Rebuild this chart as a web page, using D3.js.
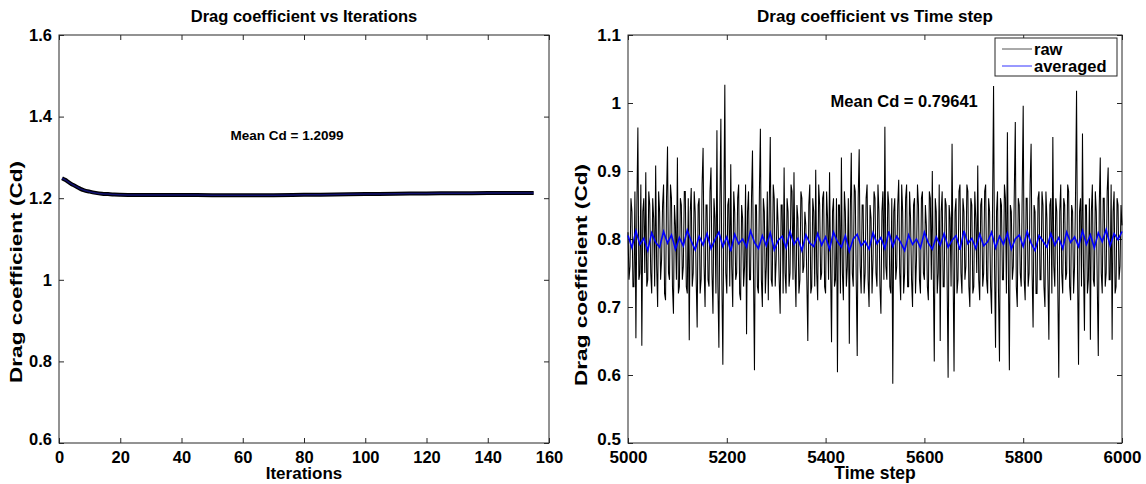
<!DOCTYPE html>
<html>
<head>
<meta charset="utf-8">
<script src="https://cdn.jsdelivr.net/npm/d3@7"></script>
<style>
  body { margin: 0; background: #fff; }
  svg text { font-family: "Liberation Sans", Arial, sans-serif; font-weight: bold; fill: #000; }
</style>
</head>
<body>
<div id="chart"></div>
<script>
// left panel: Cd per iteration
const iterSteps = [1,2,3,4,5,6,7,8,10,12,14,16,18,20,25,30,40,50,60,70,80,90,100,110,120,130,140,150,155];
const iterCd = [1.249,1.245,1.240,1.235,1.231,1.227,1.223,1.220,1.216,1.213,1.211,1.210,1.209,1.2085,1.208,1.208,1.2078,1.2075,1.2072,1.2074,1.2082,1.2092,1.2102,1.2110,1.2117,1.2122,1.2126,1.2129,1.213];
const iterXTicks = [0,20,40,60,80,100,120,140,160];
const iterYTicks = [0.6,0.8,1,1.2,1.4,1.6];

// right panel: raw Cd at steps 5000,5004,... (rawA) and 5002,5006,... (rawB)
const rawA = [
  0.81,0.76,0.84,0.73,0.654,0.964,0.75,0.643,0.86,0.898,
  0.74,0.85,0.72,0.83,0.908,0.70,0.84,0.77,0.88,0.71,
  0.936,0.74,0.86,0.69,0.82,0.92,0.73,0.85,0.76,0.87,
  0.72,0.651,0.875,0.75,0.84,0.67,0.86,0.74,0.934,0.70,
  0.85,0.73,0.905,0.69,0.83,0.96,0.64,0.977,0.615,1.027,
  0.72,0.86,0.91,0.70,0.84,0.75,0.88,0.71,0.83,0.76,
  0.66,0.87,0.74,0.93,0.607,0.85,0.72,0.962,0.70,0.84,
  0.76,0.71,0.95,0.73,0.86,0.77,0.82,0.69,0.85,0.905,
  0.72,0.84,0.75,0.87,0.898,0.70,0.83,0.74,0.86,0.76,
  0.82,0.65,0.88,0.73,0.84,0.902,0.71,0.85,0.75,0.87,
  0.72,0.83,0.898,0.648,0.86,0.74,0.604,0.85,0.92,0.71,
  0.84,0.76,0.646,0.927,0.73,0.87,0.628,0.932,0.72,0.85,
  0.75,0.88,0.70,0.83,0.77,0.86,0.73,0.84,0.69,0.87,
  0.965,0.74,0.85,0.72,0.587,0.86,0.76,0.887,0.71,0.84,
  0.75,0.88,0.73,0.83,0.70,0.86,0.77,0.85,0.72,0.87,
  0.74,0.82,0.71,0.86,0.90,0.62,0.84,0.75,0.65,0.87,
  0.73,0.85,0.596,0.83,0.94,0.605,0.86,0.74,0.88,0.72,
  0.84,0.76,0.87,0.70,0.85,0.73,0.83,0.908,0.71,0.86,
  0.75,0.88,0.72,0.84,0.69,1.025,0.64,0.87,0.62,0.85,
  0.74,0.86,0.957,0.607,0.84,0.76,0.972,0.70,0.85,0.73,
  0.996,0.71,0.86,0.75,0.94,0.67,0.84,0.72,0.87,0.74,
  0.85,0.70,0.83,0.652,0.86,0.95,0.73,0.84,0.596,0.88,
  0.72,0.85,0.75,0.87,0.71,0.84,0.76,1.018,0.615,0.86,
  0.955,0.665,0.85,0.74,0.652,0.88,0.73,0.84,0.628,0.92,
  0.72,0.86,0.75,0.905,0.74,0.652,0.87,0.73,0.85,0.76,
  0.82
];
const rawB = [
  0.74,0.86,0.73,0.87,0.85,0.74,0.88,0.84,0.75,0.73,
  0.87,0.75,0.86,0.73,0.76,0.87,0.74,0.85,0.72,0.86,
  0.75,0.88,0.73,0.85,0.74,0.72,0.86,0.74,0.87,0.73,
  0.86,0.84,0.73,0.87,0.74,0.85,0.72,0.88,0.76,0.85,
  0.74,0.87,0.75,0.86,0.72,0.73,0.85,0.74,0.84,0.75,
  0.85,0.73,0.76,0.87,0.74,0.86,0.72,0.85,0.73,0.88,
  0.84,0.74,0.86,0.75,0.85,0.73,0.87,0.74,0.86,0.72,
  0.87,0.85,0.74,0.88,0.73,0.86,0.74,0.85,0.72,0.75,
  0.86,0.73,0.88,0.74,0.76,0.85,0.72,0.87,0.75,0.84,
  0.74,0.85,0.72,0.86,0.73,0.75,0.88,0.74,0.86,0.73,
  0.87,0.74,0.76,0.84,0.73,0.86,0.85,0.72,0.75,0.87,
  0.73,0.86,0.84,0.75,0.88,0.74,0.86,0.76,0.85,0.72,
  0.86,0.74,0.85,0.72,0.87,0.75,0.88,0.73,0.84,0.74,
  0.76,0.87,0.73,0.86,0.84,0.74,0.85,0.75,0.88,0.72,
  0.86,0.73,0.87,0.74,0.85,0.72,0.88,0.74,0.86,0.75,
  0.85,0.73,0.87,0.74,0.75,0.86,0.72,0.88,0.84,0.73,
  0.86,0.74,0.85,0.73,0.76,0.84,0.72,0.87,0.75,0.86,
  0.74,0.88,0.73,0.86,0.72,0.87,0.75,0.74,0.85,0.73,
  0.87,0.74,0.86,0.73,0.85,0.76,0.84,0.72,0.86,0.74,
  0.88,0.72,0.75,0.85,0.74,0.87,0.73,0.86,0.75,0.87,
  0.74,0.86,0.73,0.88,0.75,0.85,0.72,0.86,0.74,0.87,
  0.73,0.87,0.74,0.85,0.72,0.76,0.86,0.73,0.84,0.75,
  0.86,0.74,0.88,0.73,0.85,0.72,0.87,0.75,0.84,0.73,
  0.76,0.85,0.72,0.86,0.84,0.74,0.87,0.73,0.85,0.75,
  0.86,0.73,0.87,0.74,0.88,0.84,0.72,0.86,0.74,0.85
];
const rawStart = 5000, rawStep = 2;
// averaged Cd every 8 steps from 5000
const avgStart = 5000, avgStep = 8;
const avgCd = [
  0.805,0.787,0.812,0.792,0.801,0.783,0.809,0.795,0.788,0.811,
  0.794,0.806,0.785,0.802,0.790,0.813,0.797,0.784,0.804,0.791,
  0.808,0.786,0.799,0.810,0.789,0.803,0.782,0.807,0.793,0.800,
  0.788,0.812,0.795,0.786,0.805,0.790,0.809,0.784,0.798,0.804,
  0.787,0.811,0.792,0.801,0.783,0.806,0.794,0.789,0.808,0.791,
  0.803,0.785,0.810,0.796,0.788,0.805,0.782,0.800,0.807,0.790,
  0.797,0.785,0.809,0.793,0.802,0.786,0.811,0.789,0.804,0.795,
  0.783,0.806,0.792,0.800,0.787,0.810,0.794,0.785,0.803,0.791,
  0.808,0.788,0.798,0.805,0.784,0.812,0.793,0.801,0.786,0.807,
  0.790,0.796,0.810,0.787,0.804,0.792,0.809,0.785,0.800,0.806,
  0.789,0.811,0.794,0.783,0.805,0.797,0.788,0.808,0.791,0.802,
  0.786,0.810,0.795,0.803,0.789,0.812,0.792,0.806,0.787,0.809,
  0.796,0.814,0.790,0.808,0.799,0.811
];
const timeXTicks = [5000,5200,5400,5600,5800,6000];
const timeYTicks = [0.5,0.6,0.7,0.8,0.9,1,1.1];

// interleave the two raw halves into one time-ordered series
const rawCd = rawA.flatMap((v, i) => i < rawB.length ? [v, rawB[i]] : [v]);

const W = 1146, H = 484;
const svg = d3.select("#chart").append("svg").attr("width", W).attr("height", H);

function panel(box, xDomain, yDomain, xTicks, yTicks, fs, title, xLabel, yLabel, yLabelX, yLabelY) {
  const x = d3.scaleLinear().domain(xDomain).range([box.x0, box.x1]);
  const y = d3.scaleLinear().domain(yDomain).range([box.y1, box.y0]);
  const g = svg.append("g");

  const styleAxis = a => {
    a.select(".domain").remove();
    a.selectAll("line").attr("stroke", "#262626");
    a.selectAll("text").attr("font-size", fs).attr("fill", "#000");
  };

  g.append("g").attr("transform", `translate(0,${box.y1})`)
    .call(d3.axisBottom(x).tickValues(xTicks).tickSizeInner(-5).tickSizeOuter(0).tickPadding(8).tickFormat(d => d))
    .call(styleAxis);
  g.append("g").attr("transform", `translate(0,${box.y0})`)
    .call(d3.axisTop(x).tickValues(xTicks).tickSizeInner(-5).tickSizeOuter(0).tickFormat(""))
    .call(styleAxis);
  const yAxis = g.append("g").attr("transform", `translate(${box.x0},0)`)
    .call(d3.axisLeft(y).tickValues(yTicks).tickSizeInner(-5).tickSizeOuter(0).tickPadding(7).tickFormat(d => d))
    .call(styleAxis);
  // lift the bottom y label a little off the first x label
  yAxis.selectAll(".tick").filter(d => d === yDomain[0]).select("text").attr("dy", "0.1em");
  g.append("g").attr("transform", `translate(${box.x1},0)`)
    .call(d3.axisRight(y).tickValues(yTicks).tickSizeInner(-5).tickSizeOuter(0).tickFormat(""))
    .call(styleAxis);

  g.append("rect")
    .attr("x", box.x0).attr("y", box.y0)
    .attr("width", box.x1 - box.x0).attr("height", box.y1 - box.y0)
    .attr("fill", "none").attr("stroke", "#262626").attr("stroke-width", 1);

  g.append("text")
    .attr("x", (box.x0 + box.x1) / 2).attr("y", 22)
    .attr("text-anchor", "middle").attr("font-size", fs)
    .text(title);

  g.append("text")
    .attr("x", (box.x0 + box.x1) / 2).attr("y", 479)
    .attr("text-anchor", "middle").attr("font-size", fs + 0.5)
    .text(xLabel);

  g.append("text")
    .attr("transform", `translate(${yLabelX},${yLabelY}) rotate(-90)`)
    .attr("text-anchor", "middle").attr("font-size", fs)
    .attr("textLength", 222).attr("lengthAdjust", "spacingAndGlyphs")
    .text(yLabel);

  return { g, x, y };
}

// left panel
const L = panel({ x0: 59, x1: 549, y0: 35, y1: 443 }, [0, 160], [0.6, 1.6],
  iterXTicks, iterYTicks, 16.5, "Drag coefficient vs Iterations", "Iterations", "Drag coefficient (Cd)", 22, 272);

const iterLine = d3.line().x((d, i) => L.x(iterSteps[i])).y(d => L.y(d)).curve(d3.curveMonotoneX);
L.g.append("path").datum(iterCd)
  .attr("d", iterLine).attr("fill", "none").attr("stroke", "#000").attr("stroke-width", 4);
L.g.append("path").datum(iterCd)
  .attr("d", iterLine).attr("fill", "none").attr("stroke", "#1a1aa0").attr("stroke-width", 1.5).attr("opacity", 0.7);

L.g.append("text")
  .attr("x", L.x(56)).attr("y", L.y(1.342))
  .attr("font-size", 13.5).text("Mean Cd = 1.2099");

// right panel
const R = panel({ x0: 628, x1: 1122, y0: 35, y1: 443 }, [5000, 6000], [0.5, 1.1],
  timeXTicks, timeYTicks, 17, "Drag coefficient vs Time step", "Time step", "Drag coefficient (Cd)", 587, 275);

R.g.append("path").datum(rawCd)
  .attr("d", d3.line().x((d, i) => R.x(rawStart + i * rawStep)).y(d => R.y(d)))
  .attr("fill", "none").attr("stroke", "#000").attr("stroke-width", 1.05);

R.g.append("path").datum(avgCd)
  .attr("d", d3.line().x((d, i) => R.x(avgStart + i * avgStep)).y(d => R.y(d)))
  .attr("fill", "none").attr("stroke", "#0000ff").attr("stroke-width", 1.6);

R.g.append("text")
  .attr("x", R.x(5410)).attr("y", R.y(0.994))
  .attr("font-size", 16.5).text("Mean Cd = 0.79641");

// legend
const legendItems = [
  { name: "raw", color: "#555" },
  { name: "averaged", color: "#3333ff" }
];
const lg = R.g.append("g").attr("transform", "translate(995,38)");
lg.append("rect").attr("width", 122).attr("height", 38)
  .attr("fill", "#fff").attr("stroke", "#262626").attr("stroke-width", 1);
const li = lg.selectAll(".item").data(legendItems).join("g")
  .attr("class", "item")
  .attr("transform", (d, i) => `translate(0,${11 + i * 17})`);
li.append("line").attr("x1", 7).attr("x2", 37).attr("y1", 0).attr("y2", 0)
  .attr("stroke", d => d.color).attr("stroke-width", 1);
li.append("text").attr("x", 39).attr("y", 6).attr("font-size", 16.5).text(d => d.name);
</script>
</body>
</html>
